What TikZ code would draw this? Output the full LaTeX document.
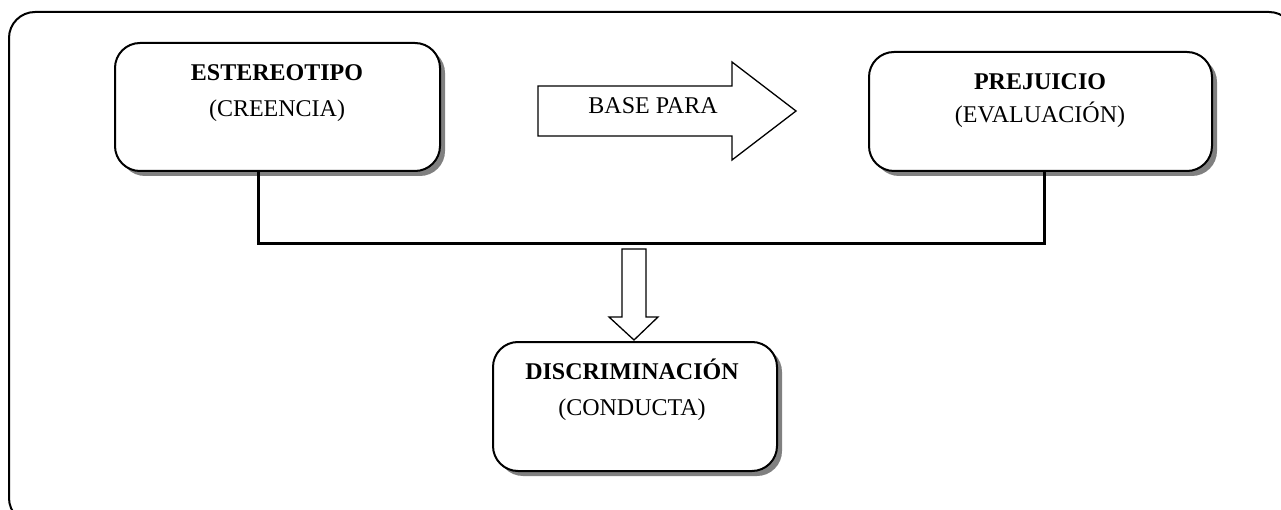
\documentclass[tikz,border=0pt]{standalone}
\usepackage{fontspec}
\setmainfont{Liberation Serif}
\usetikzlibrary{shadows}

\tikzset{
  box/.style={draw,shape=rectangle,rounded corners=25pt,line width=2pt,fill=white,
    drop shadow={shadow xshift=5pt,shadow yshift=-5pt,fill=black!50,opacity=1}},
  title/.style={anchor=base,inner sep=0pt,font=\fontsize{24}{28}\selectfont\bfseries},
  sub/.style={anchor=base,inner sep=0pt,font=\fontsize{24}{28}\selectfont},
  blockarrow/.style={draw,line width=1.3pt,fill=white,line join=miter},
  bar/.style={draw,line width=3pt,line cap=rect},
  frame/.style={draw,line width=2pt,rounded corners=26pt}
}

\begin{document}
\begin{tikzpicture}[x=1pt,y=-1pt]
   \useasboundingbox (0,0) rectangle (1281,510);
   \path[frame] (9,12) rectangle (1295,524);

   \path (277.5,107) node[box,minimum width=325pt,minimum height=128pt] (ES) {};
   \path (277,81) node[title] (EStitle) {ESTEREOTIPO};
   \path (277,117) node[sub] (ESsub) {(CREENCIA)};

   \path (1040.5,111.5) node[box,minimum width=343pt,minimum height=119pt] (PR) {};
   \path (1040,90) node[title] (PRtitle) {PREJUICIO};
   \path (1040,123) node[sub] (PRsub) {(EVALUACIÓN)};

   \path (635,406.5) node[box,minimum width=284pt,minimum height=129pt] (DI) {};
   \path (632,379) node[title] (DItitle) {DISCRIMINACIÓN};
   \path (632,415) node[sub] (DIsub) {(CONDUCTA)};

   \path[blockarrow] (538,86) -- (732,86) -- (732,62) -- (796,111)
      -- (732,160) -- (732,136) -- (538,136) -- cycle;
   \path (653,114) node[sub] (base) {BASE PARA};

   \coordinate (J1) at (258,244);
   \coordinate (J2) at (1044,244);
   \path[bar] (ES.south -| J1) -- (J1) -- (J2) -- (PR.south -| J2);

   \path[blockarrow] (622,249) -- (646,249) -- (646,317) -- (658,317)
      -- (634,340) -- (609,317) -- (622,317) -- cycle;
\end{tikzpicture}
\end{document}
